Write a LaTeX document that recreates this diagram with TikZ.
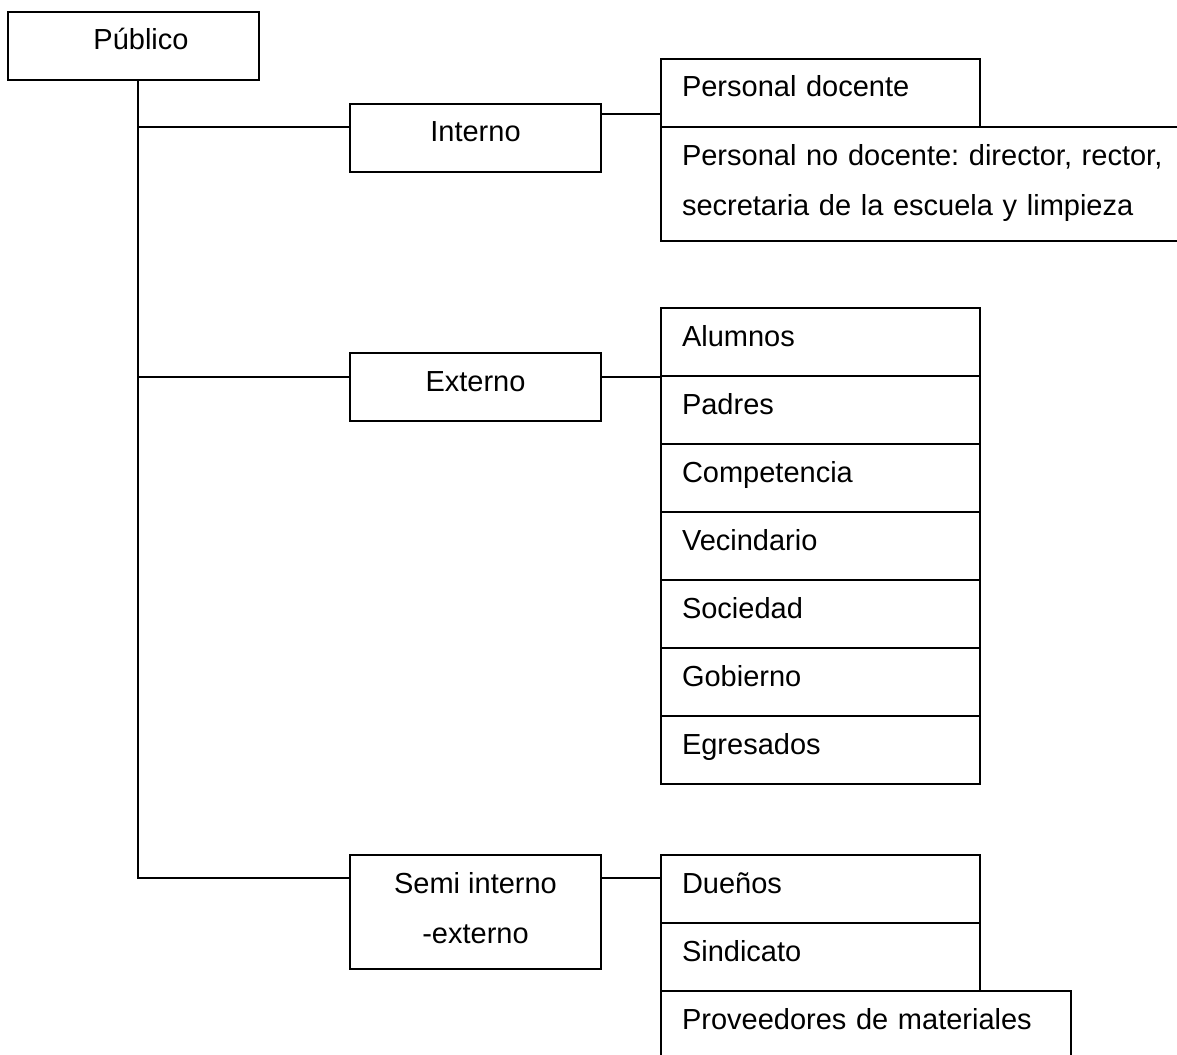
\documentclass[tikz,border=0pt]{standalone}
\usepackage{fontspec}
\setmainfont{Liberation Sans}
\usetikzlibrary{positioning}
\frenchspacing
\tikzset{
x=1pt, y=-1pt, % one unit per pixel of the sketch, y runs downwards
every node/.style={font=\fontsize{29}{50}\selectfont}, % text size of all boxes
caja/.style={draw, line width=1.6pt, outer sep=0pt, inner sep=0pt, text height=38pt, text depth=30pt}, % plain box, baseline near the top
doble/.style={text height=88pt, text depth=26pt}, % centred box with two lines of text
grupo/.style={caja, minimum width=251pt, align=center, anchor=north west}, % the boxes of the middle column
item/.style={caja, inner xsep=21pt, text width=277pt, align=left, anchor=north west}, % the boxes of the lists
linea/.style={line width=1.6pt}, % connectors
}
\begin{document}
\begin{tikzpicture}
                \useasboundingbox (0,0) rectangle (1177,1054);
                \clip (0,0) rectangle (1177,1054);
                \node[grupo] (pub) at (8,12) {\hspace*{15pt}Público};
                \node[grupo] (int) at (350,104) {Interno};
                \node[grupo] (ext) at (350,353) {Externo};
                \node[grupo, doble] (semi) at (350,855) {Semi interno\\-externo};
                % interno
                \node[item] (pdoc) at (661,59) {Personal docente};
                \node[item, text width=560pt, text depth=76pt, below=0pt of pdoc.south west, anchor=north west] (pnodoc) {Personal no docente: director, rector,\\secretaria de la escuela y limpieza};
                % externo
                \node[item] (alum) at (661,308) {Alumnos};
                \node[item, below=0pt of alum.south west, anchor=north west] (padr) {Padres};
                \node[item, below=0pt of padr.south west, anchor=north west] (comp) {Competencia};
                \node[item, below=0pt of comp.south west, anchor=north west] (veci) {Vecindario};
                \node[item, below=0pt of veci.south west, anchor=north west] (soci) {Sociedad};
                \node[item, below=0pt of soci.south west, anchor=north west] (gobi) {Gobierno};
                \node[item, below=0pt of gobi.south west, anchor=north west] (egre) {Egresados};
                % semi interno-externo
                \node[item] (duen) at (661,855) {Dueños};
                \node[item, below=0pt of duen.south west, anchor=north west] (sind) {Sindicato};
                \node[item, text width=368pt, below=0pt of sind.south west, anchor=north west] (prov) {Proveedores de materiales};
                \coordinate (tronco) at ([xshift=4.5pt]pub.south);
                \coordinate (ei) at ([yshift=-23pt]int.north west);
                \coordinate (ee) at ([yshift=-24pt]ext.north west);
                \coordinate (es) at ([yshift=-23pt]semi.north west);
                \coordinate (si) at ([yshift=-10pt]int.north east);
                \coordinate (se) at ([yshift=-24pt]ext.north east);
                \coordinate (ss) at ([yshift=-23pt]semi.north east);
                \draw[linea]
                    (tronco) |- (es)
                    (tronco |- ei) -- (ei)
                    (tronco |- ee) -- (ee)
                    (si) -- (si -| pdoc.west)
                    (se) -- (se -| alum.west)
                    (ss) -- (ss -| duen.west)
                    ;
                \end{tikzpicture}
\end{document}
